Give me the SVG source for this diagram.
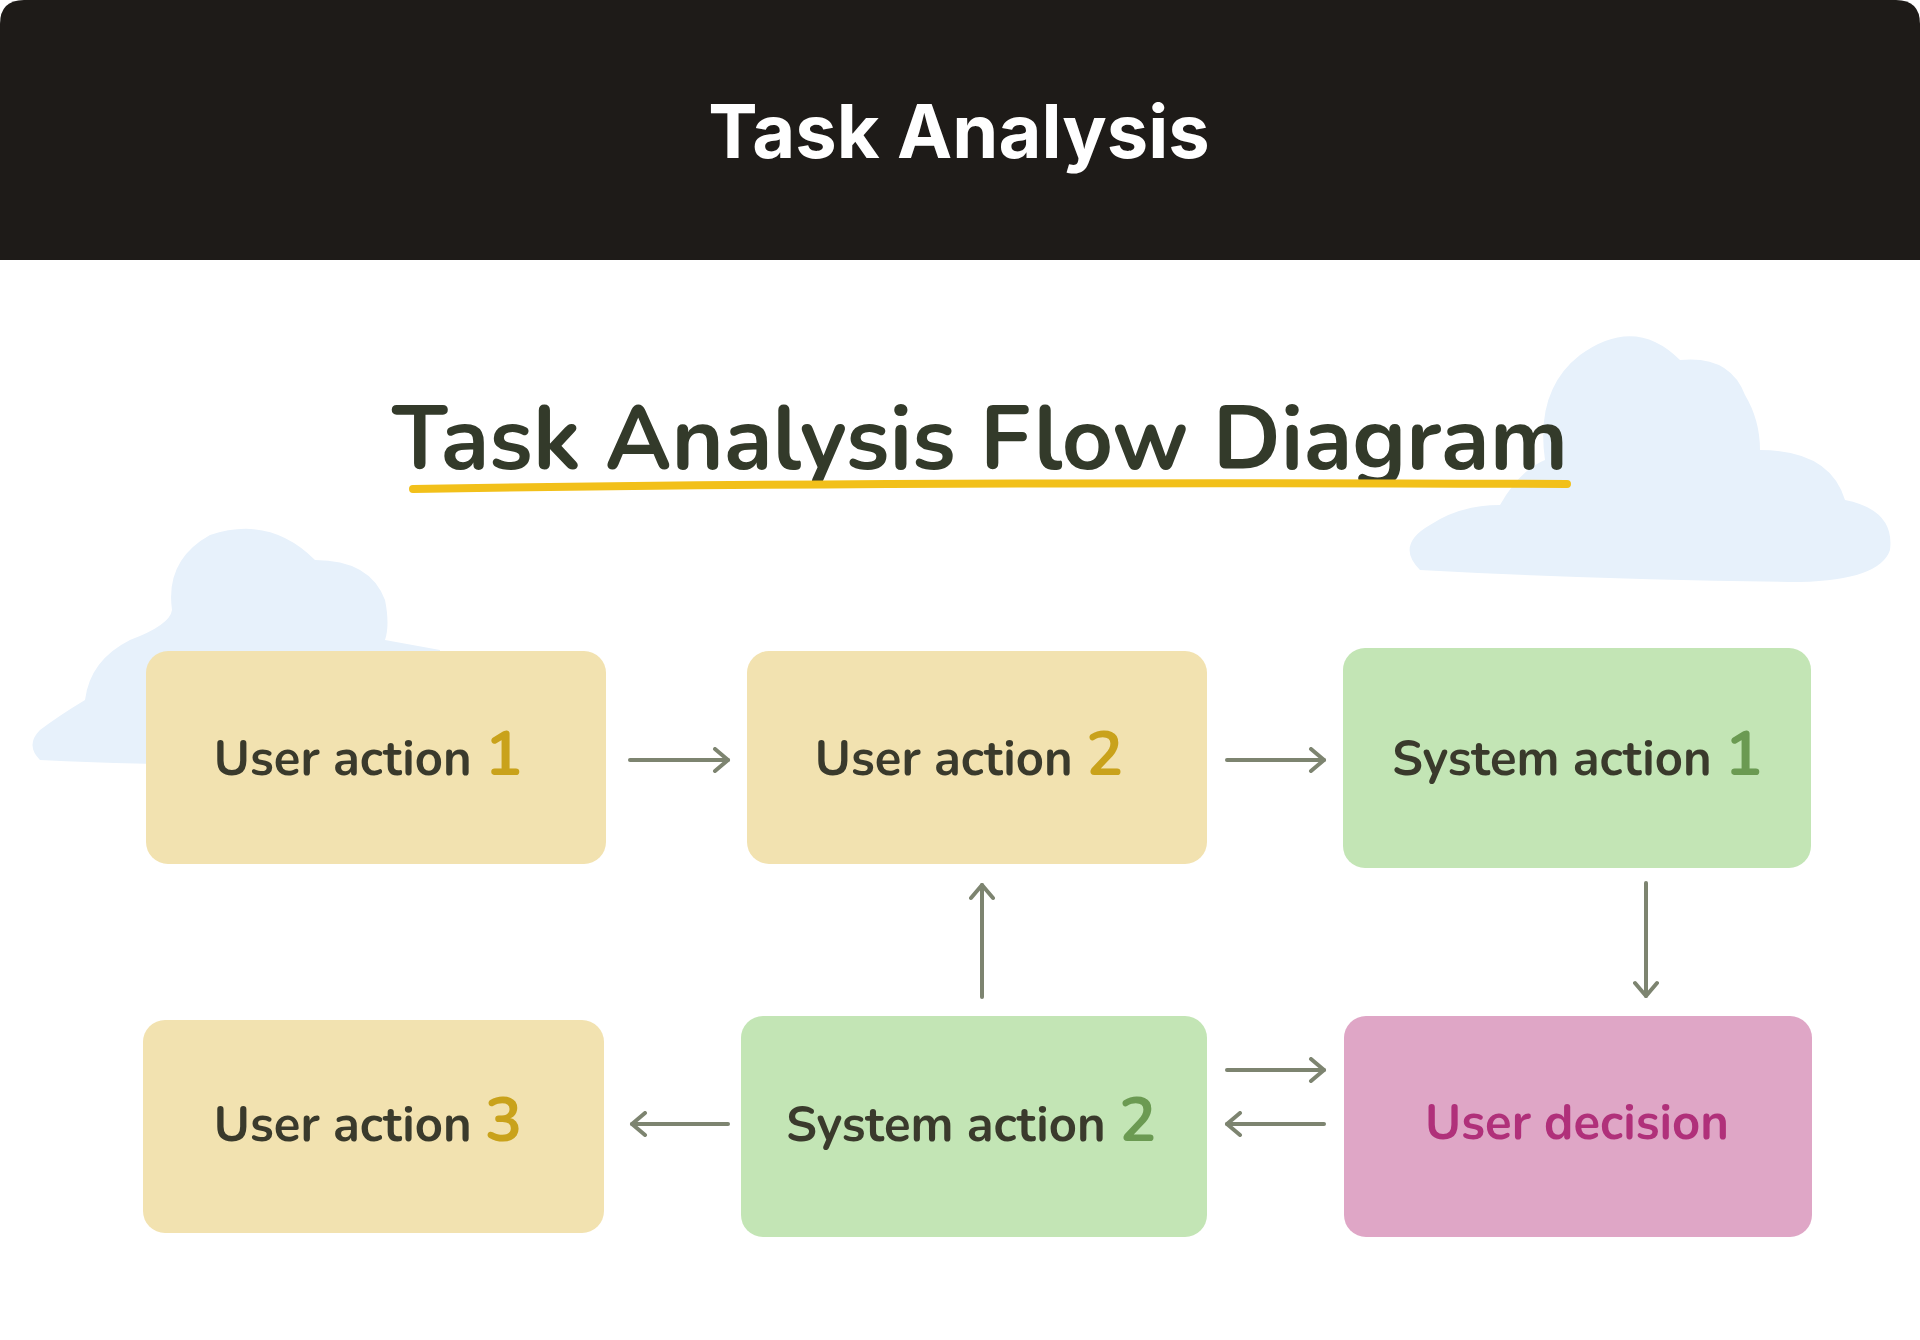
<svg xmlns="http://www.w3.org/2000/svg" width="1920" height="1340" viewBox="0 0 1920 1340">
<style>
.lbl{font-family:"Nunito","Noto Sans","Liberation Sans",sans-serif;font-weight:700;font-size:49px;fill:#3a3a2c}
.ny{fill:#c9a21b;font-size:62px}
.ng{fill:#6b9a52;font-size:62px}
.c{stroke:#7d8470;stroke-width:4;fill:none;stroke-linecap:round;stroke-linejoin:round}
</style>
<defs>
<marker id="ah" viewBox="0 0 26 26" refX="23" refY="13" markerWidth="26" markerHeight="26" markerUnits="userSpaceOnUse" orient="auto">
<path d="M10 2 L23 13 L10 24" fill="none" stroke="#7d8470" stroke-width="4" stroke-linecap="round" stroke-linejoin="round"/>
</marker>
</defs>
<rect width="1920" height="1340" fill="#ffffff"/>
<path d="M0 24 Q0 0 24 0 H1896 Q1920 0 1920 24 V260 H0 Z" fill="#1e1b18"/>
<text x="959" y="158" text-anchor="middle" font-family="Inter,'Liberation Sans',sans-serif" font-weight="700" font-size="74" fill="#ffffff">Task Analysis</text>
<g id="clouds" fill="#e7f1fb">
<path d="M1420 570 Q1395 545 1430 525 Q1460 505 1500 505 Q1520 470 1545 460 Q1535 390 1580 355 Q1635 315 1680 360 Q1730 355 1745 395 Q1760 420 1760 450 Q1830 450 1845 500 Q1895 510 1890 550 Q1880 580 1800 582 Q1600 580 1420 570 Z"/>
<path d="M40 760 Q25 745 40 730 Q60 715 85 700 Q90 660 130 640 Q170 625 172 610 Q165 560 210 535 Q270 515 315 560 Q370 560 385 600 Q390 625 385 640 L440 650 L440 765 Q200 768 40 760 Z"/>
</g>
<text x="980" y="469" text-anchor="middle" font-family="Nunito,'Noto Sans','Liberation Sans',sans-serif" font-weight="700" font-size="90" fill="#333a2a" textLength="1176" lengthAdjust="spacingAndGlyphs">Task Analysis Flow Diagram</text>
<path d="M413 489 Q900 481 1567 484" stroke="#f2c01a" stroke-width="8" fill="none" stroke-linecap="round"/>
<g id="ua1"><rect x="146" y="651" width="460" height="213" rx="22" fill="#f2e2b0"/><text class="lbl" x="368" y="775" text-anchor="middle">User action <tspan class="ny">1</tspan></text></g>
<g id="ua2"><rect x="747" y="651" width="460" height="213" rx="22" fill="#f2e2b0"/><text class="lbl" x="969" y="775" text-anchor="middle">User action <tspan class="ny">2</tspan></text></g>
<g id="sa1"><rect x="1343" y="648" width="468" height="220" rx="22" fill="#c3e5b5"/><text class="lbl" x="1577" y="775" text-anchor="middle">System action <tspan class="ng">1</tspan></text></g>
<g id="ua3"><rect x="143" y="1020" width="461" height="213" rx="22" fill="#f2e2b0"/><text class="lbl" x="368" y="1141" text-anchor="middle">User action <tspan class="ny">3</tspan></text></g>
<g id="sa2"><rect x="741" y="1016" width="466" height="221" rx="22" fill="#c3e5b5"/><text class="lbl" x="971" y="1141" text-anchor="middle">System action <tspan class="ng">2</tspan></text></g>
<g id="ud"><rect x="1344" y="1016" width="468" height="221" rx="22" fill="#dfa6c6"/><text class="lbl" x="1577" y="1139" text-anchor="middle" style="fill:#b0307a">User decision</text></g>
<g id="connectors">
<line class="c" x1="630" y1="760" x2="728" y2="760" marker-end="url(#ah)"/>
<line class="c" x1="1227" y1="760" x2="1324" y2="760" marker-end="url(#ah)"/>
<line class="c" x1="1646" y1="883" x2="1646" y2="996" marker-end="url(#ah)"/>
<line class="c" x1="982" y1="997" x2="982" y2="885" marker-end="url(#ah)"/>
<line class="c" x1="728" y1="1124" x2="632" y2="1124" marker-end="url(#ah)"/>
<line class="c" x1="1227" y1="1070" x2="1324" y2="1070" marker-end="url(#ah)"/>
<line class="c" x1="1324" y1="1124" x2="1227" y2="1124" marker-end="url(#ah)"/>
</g>
</svg>
